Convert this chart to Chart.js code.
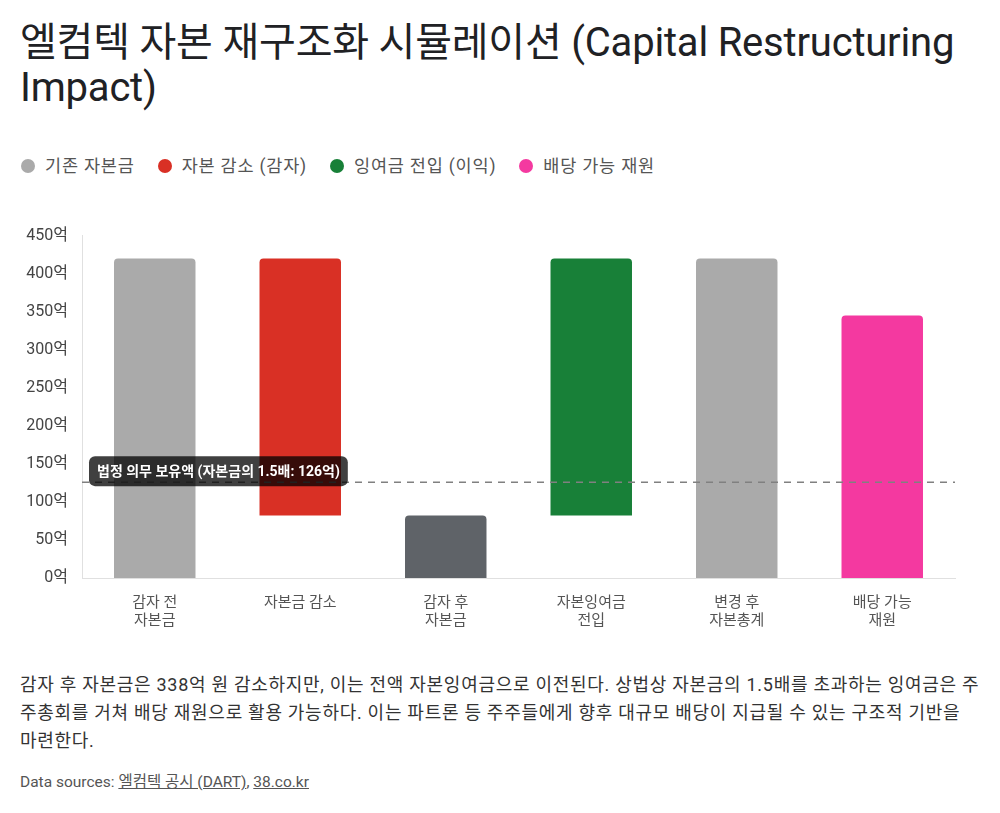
<!DOCTYPE html>
<html lang="ko">
<head>
<meta charset="utf-8">
<title>엘컴텍 자본 재구조화 시뮬레이션</title>
<script src="https://cdn.jsdelivr.net/npm/chart.js@4.4.1/dist/chart.umd.min.js"></script>
<style>
  html, body { margin: 0; padding: 0; background: #fff; }
  body { width: 1000px; height: 813px; overflow: hidden; font-family: Roboto, "Noto Sans CJK KR", sans-serif; color: #202124; }
  .wrap { padding: 0 20px; width: 960px; }
  h1 { font-weight: 400; font-size: 40px; line-height: 45px; margin: 20px 0 0 0; letter-spacing: -0.2px; }
  .legend { display: flex; gap: 22px; margin-top: 45px; font-size: 17.5px; line-height: 22px; color: #555; letter-spacing: 0.8px; }
  .legend span { display: inline-flex; align-items: center; }
  .legend i { display: inline-block; width: 14px; height: 14px; border-radius: 50%; margin: 0 10px 0 1px; }
  .chart-box { position: relative; height: 418px; margin-top: 43px; }
  .note { font-size: 18px; line-height: 28px; color: #333; margin-top: 33px; letter-spacing: 0.72px; }
  .src { font-size: 15.5px; line-height: 18px; color: #555; margin-top: 18px; }
  .src a { color: #555; text-decoration: underline; }
</style>
</head>
<body>
<div class="wrap">
  <h1>엘컴텍 자본 재구조화 시뮬레이션 (Capital Restructuring Impact)</h1>
  <div class="legend" id="legend"></div>
  <div class="chart-box"><canvas id="chart"></canvas></div>
  <div class="note">감자 후 자본금은 338억 원 감소하지만, 이는 전액 자본잉여금으로 이전된다. 상법상 자본금의 1.5배를 초과하는 잉여금은 주주총회를 거쳐 배당 재원으로 활용 가능하다. 이는 파트론 등 주주들에게 향후 대규모 배당이 지급될 수 있는 구조적 기반을 마련한다.</div>
  <div class="src">Data sources: <a>엘컴텍 공시 (DART)</a>, <a>38.co.kr</a></div>
</div>
<script>
(function () {
  'use strict';

  // ── 데이터 ──────────────────────────────────────────
  var categories = [
    ['감자 전', '자본금'],
    ['자본금 감소'],
    ['감자 후', '자본금'],
    ['자본잉여금', '전입'],
    ['변경 후', '자본총계'],
    ['배당 가능', '재원']
  ];
  var barStart = [0, 82, 0, 82, 0, 0];      // 억
  var barEnd   = [420, 420, 82, 420, 420, 345];
  var barColors = ['#aaaaaa', '#d93025', '#5f6368', '#188038', '#aaaaaa', '#f439a0'];

  var legendLabels = ['기존 자본금', '자본 감소 (감자)', '잉여금 전입 (이익)', '배당 가능 재원'];
  var legendColors = ['#aaaaaa', '#d93025', '#188038', '#f439a0'];

  var yTicks = [0, 50, 100, 150, 200, 250, 300, 350, 400, 450];
  var refValue = 126;
  var refLabel = '법정 의무 보유액 (자본금의 1.5배: 126억)';

  var FONT = "Roboto, 'Noto Sans CJK KR', sans-serif";

  // ── 범례 ────────────────────────────────────────────
  var lg = document.getElementById('legend');
  legendLabels.forEach(function (t, i) {
    var s = document.createElement('span');
    s.innerHTML = '<i style="background:' + legendColors[i] + '"></i>' + t;
    lg.appendChild(s);
  });

  // ── 기준선 플러그인 ─────────────────────────────────
  var refLine = {
    id: 'refLine',
    afterDatasetsDraw: function (chart) {
      var ctx = chart.ctx, area = chart.chartArea;
      var y = chart.scales.y.getPixelForValue(refValue);
      ctx.save();
      ctx.strokeStyle = '#808080';
      ctx.lineWidth = 1.5;
      ctx.setLineDash([7, 6]);
      ctx.beginPath();
      ctx.moveTo(area.left, y);
      ctx.lineTo(area.right, y);
      ctx.stroke();
      ctx.setLineDash([]);

      ctx.font = 'bold 14px ' + FONT;
      var w = ctx.measureText(refLabel).width + 16;
      var h = 30, x = area.left + 7, top = y - 26;
      ctx.fillStyle = 'rgba(0,0,0,0.75)';
      ctx.beginPath();
      ctx.roundRect(x, top, w, h, 6);
      ctx.fill();
      ctx.fillStyle = '#fff';
      ctx.textBaseline = 'middle';
      ctx.fillText(refLabel, x + 8, top + h / 2 + 1);
      ctx.restore();
    }
  };

  new Chart(document.getElementById('chart').getContext('2d'), {
    type: 'bar',
    data: {
      labels: categories,
      datasets: [{
        data: barStart.map(function (s, i) { return [s, barEnd[i]]; }),
        backgroundColor: barColors,
        borderRadius: 4,
        barPercentage: 0.56,
        categoryPercentage: 1
      }]
    },
    options: {
      responsive: true,
      maintainAspectRatio: false,
      animation: false,
      layout: { padding: { top: 8, right: 25, left: 0, bottom: 0 } },
      plugins: { legend: { display: false }, tooltip: { enabled: false } },
      scales: {
        x: {
          grid: { display: false },
          border: { color: '#e0e0e0' },
          ticks: { color: '#555', font: { family: FONT, size: 15 }, padding: 8, maxRotation: 0 }
        },
        y: {
          min: 0, max: 450,
          afterBuildTicks: function (s) { s.ticks = yTicks.map(function (v) { return { value: v }; }); },
          afterFit: function (s) { s.width = 62; },
          grid: { display: false },
          border: { color: '#e0e0e0' },
          ticks: {
            color: '#444', font: { family: FONT, size: 16 }, padding: 6,
            callback: function (v) { return v + '억'; }
          }
        }
      }
    },
    plugins: [refLine]
  });
})();
</script>
</body>
</html>
